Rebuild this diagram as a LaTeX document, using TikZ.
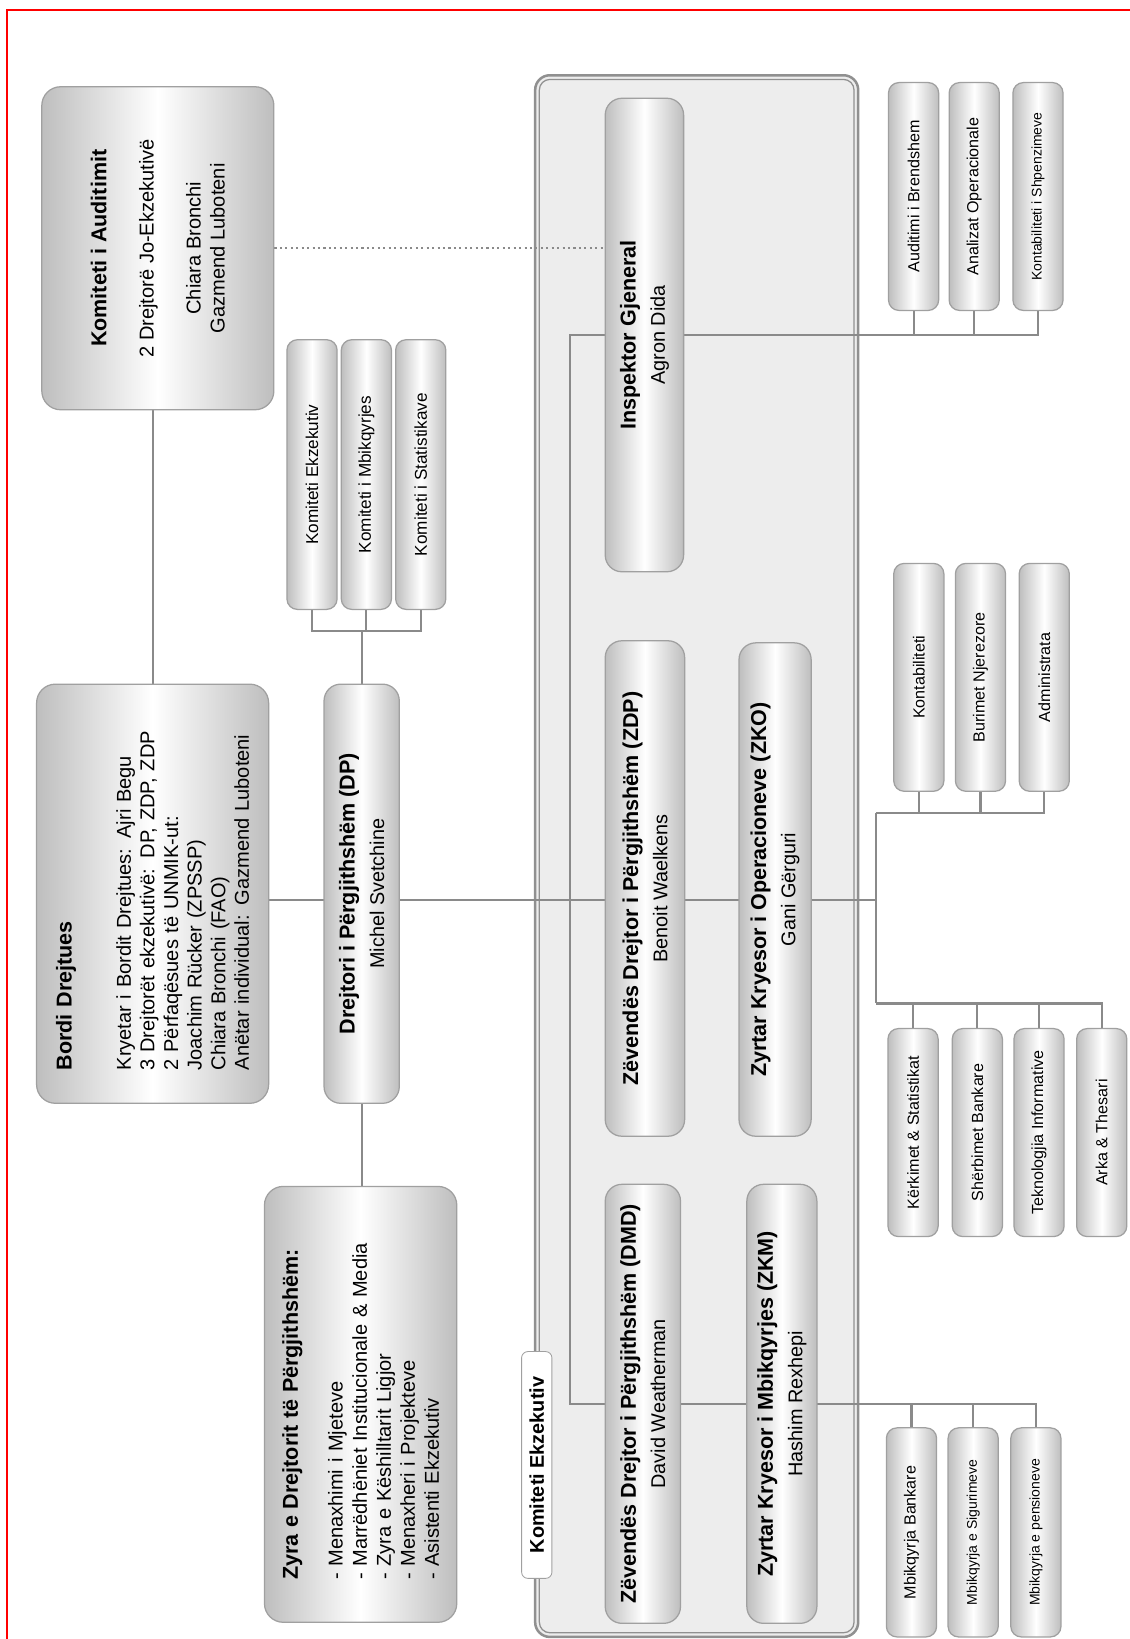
\documentclass[tikz,border=0pt]{standalone}
\usepackage{fontspec}
\setmainfont{Liberation Sans}
\usetikzlibrary{backgrounds}
\definecolor{BoxGray}{HTML}{BEBEBE}
\definecolor{BoxLine}{HTML}{A0A0A0}
\definecolor{LinkGray}{HTML}{8A8A8A}
\definecolor{PanelFill}{HTML}{EDEDED}
\definecolor{PanelLine}{HTML}{909090}
\newcommand{\ttl}[1]{{\fontsize{10.3}{12}\selectfont\bfseries #1}}

\begin{document}
\begin{tikzpicture}[x=0.5pt, y=-0.5pt,
  shaded/.style={draw=BoxLine, line width=0.6pt, left color=BoxGray, right color=BoxGray, middle color=white, rotate=90, inner sep=0pt},
  bigbox/.style={shaded, rounded corners=9pt},
  headbox/.style={shaded, rounded corners=8pt, align=center, font=\fontsize{9.5}{14}\selectfont},
  unitbox/.style={shaded, rounded corners=5pt, minimum height=24pt, font=\fontsize{7.7}{9}\selectfont},
  smallbox/.style={unitbox, font=\fontsize{6.7}{8}\selectfont},
  link/.style={draw=LinkGray, line width=1pt}]
  \useasboundingbox (0,0) rectangle (1081,1568);
  \draw[red, line width=1pt] (7,1568) -- (7,10) -- (1081,10);

  % board and director
  \node[bigbox, minimum width=154.5pt, minimum height=111pt, align=center, font=\fontsize{9.6}{11.5}\selectfont] (audit) at (151,237.5)
    {\ttl{Komiteti i Auditimit}\\[11pt] 2 Drejtorë Jo-Ekzekutivë\\[11pt] Chiara Bronchi\\ Gazmend Luboteni};
  \node[bigbox, minimum width=200.5pt, minimum height=111pt, align=left, text width=169pt, font=\fontsize{9.6}{11.3}\selectfont] (board) at (146,855)
    {\ttl{Bordi Drejtues}\\[17pt]
     Kryetar i Bordit Drejtues: Ajri Begu\\
     3 Drejtorët ekzekutivë: DP, ZDP, ZDP\\
     2 Përfaqësues të UNMIK-ut:\\
     Joachim Rücker (ZPSSP)\\
     Chiara Bronchi (FAO)\\
     Anëtar individual: Gazmend Luboteni};
  \node[headbox, minimum width=200.5pt, minimum height=36pt] (dp) at (346,855) {\ttl{Drejtori i Përgjithshëm (DP)}\\ Michel Svetchine};
  \node[bigbox, minimum width=208.5pt, minimum height=92pt, align=left, text width=168pt, font=\fontsize{9.6}{11.5}\selectfont] (office) at (345,1343.5)
    {\ttl{Zyra e Drejtorit të Përgjithshëm:}\\[10pt]
     - Menaxhimi i Mjeteve\\
     - Marrëdhëniet Institucionale \& Media\\
     - Zyra e Këshilltarit Ligjor\\
     - Menaxheri i Projekteve\\
     - Asistenti Ekzekutiv};

  \node[unitbox, minimum width=129pt, font=\fontsize{8.2}{10}\selectfont] (cexe) at (298.5,454) {Komiteti Ekzekutiv};
  \node[unitbox, minimum width=129pt, font=\fontsize{8.2}{10}\selectfont] (csup) at (350.5,454) {Komiteti i Mbikqyrjes};
  \node[unitbox, minimum width=129pt, font=\fontsize{8.2}{10}\selectfont] (cstat) at (402.5,454) {Komiteti i Statistikave};

  % executive committee
  \node[headbox, minimum width=226.5pt, minimum height=37.5pt] (ig) at (616.5,320.5) {\ttl{Inspektor Gjeneral}\\ Agron Dida};
  \node[headbox, minimum width=237pt, minimum height=38pt] (zdp) at (617,850) {\ttl{Zëvendës Drejtor i Përgjithshëm (ZDP)}\\ Benoit Waelkens};
  \node[headbox, minimum width=236pt, minimum height=34.5pt] (zko) at (741.5,851) {\ttl{Zyrtar Kryesor i Operacioneve (ZKO)}\\ Gani Gërguri};
  \node[headbox, minimum width=210pt, minimum height=36pt] (dmd) at (615,1343) {\ttl{Zëvendës Drejtor i Përgjithshëm (DMD)}\\ David Weatherman};
  \node[headbox, minimum width=210pt, minimum height=33.5pt] (zkm) at (748,1343) {\ttl{Zyrtar Kryesor i Mbikqyrjes (ZKM)}\\ Hashim Rexhepi};
  \node[draw=BoxLine, fill=white, rounded corners=3pt, rotate=90, minimum width=108.5pt, minimum height=14.5pt, inner sep=0pt, font=\fontsize{9.5}{11}\selectfont\bfseries] (extab) at (513.5,1401.5) {Komiteti Ekzekutiv};

  % departments
  \node[unitbox, minimum width=109pt] (aud) at (874,188) {Auditimi i Brendshem};
  \node[unitbox, minimum width=109pt] (anl) at (932,188) {Analizat Operacionale};
  \node[smallbox, minimum width=109pt] (ksh) at (993,188) {Kontabiliteti i Shpenzimeve};
  \node[unitbox, minimum width=109pt] (kont) at (879,648) {Kontabiliteti};
  \node[unitbox, minimum width=109pt] (hr) at (938,648) {Burimet Njerezore};
  \node[unitbox, minimum width=109pt] (adm) at (999,648) {Administrata};
  \node[unitbox, minimum width=99.5pt] (res) at (873.5,1083.5) {Kërkimet \& Statistikat};
  \node[unitbox, minimum width=99.5pt] (bank) at (935,1083.5) {Shërbimet Bankare};
  \node[unitbox, minimum width=99.5pt] (it) at (994,1083.5) {Teknologjia Informative};
  \node[unitbox, minimum width=99.5pt] (cash) at (1054,1083.5) {Arka \& Thesari};
  \node[unitbox, minimum width=100pt] (mbank) at (872,1466) {Mbikqyrja Bankare};
  \node[smallbox, minimum width=100pt] (mins) at (931,1466) {Mbikqyrja e Sigurimeve};
  \node[smallbox, minimum width=100pt] (mpen) at (991,1466) {Mbikqyrja e pensioneve};

  \begin{pgfonlayer}{background}
    \draw[PanelLine, line width=1.2pt, fill=PanelFill, rounded corners=7pt] (512,72) rectangle (821,1566);
    \draw[PanelLine, line width=0.6pt, rounded corners=5pt] (516,76) rectangle (817,1562);
    \coordinate (split) at (838,861);
    \coordinate (opup) at (838,778);
    \coordinate (opdn) at (838,960);
    \coordinate (cbr) at (346,604);
    \draw[link] (board.east) -- (board.east |- audit.west);
    \draw[link] (board.south |- split) -- (split);
    \draw[link] (dp.west) -- (dp.west |- office.east);
    \draw[link] (dp.east) -- (cbr);
    \draw[link] (cexe.west) |- (cstat.west |- cbr) -- (cstat.west);
    \draw[link] (csup.west) -- (csup.west |- cbr);
    \draw[link, dash pattern=on 1pt off 1.6pt] (audit.south) -- (audit.south -| ig.north);
    \draw[link] (ig.south) -| (ksh.west);
    \draw[link] (aud.west) -- (aud.west |- ig.south);
    \draw[link] (anl.west) -- (anl.west |- ig.south);
    \draw[link] (ig.north) -- ++(-33,0) |- (mpen.east |- dmd.north) -- (mpen.east);
    \draw[link] (mbank.east) -- (mbank.east |- dmd.north);
    \draw[link] (mins.east) -- (mins.east |- dmd.north);
    \draw[link] (opup) -- (opdn);
    \draw[link] (opup) -| (adm.west);
    \draw[link] (kont.west) -- (kont.west |- opup);
    \draw[link] (hr.west) -- (hr.west |- opup);
    \draw[link] (opdn) -| (cash.east);
    \draw[link] (res.east) -- (res.east |- opdn);
    \draw[link] (bank.east) -- (bank.east |- opdn);
    \draw[link] (it.east) -- (it.east |- opdn);
  \end{pgfonlayer}
\end{tikzpicture}
\end{document}
